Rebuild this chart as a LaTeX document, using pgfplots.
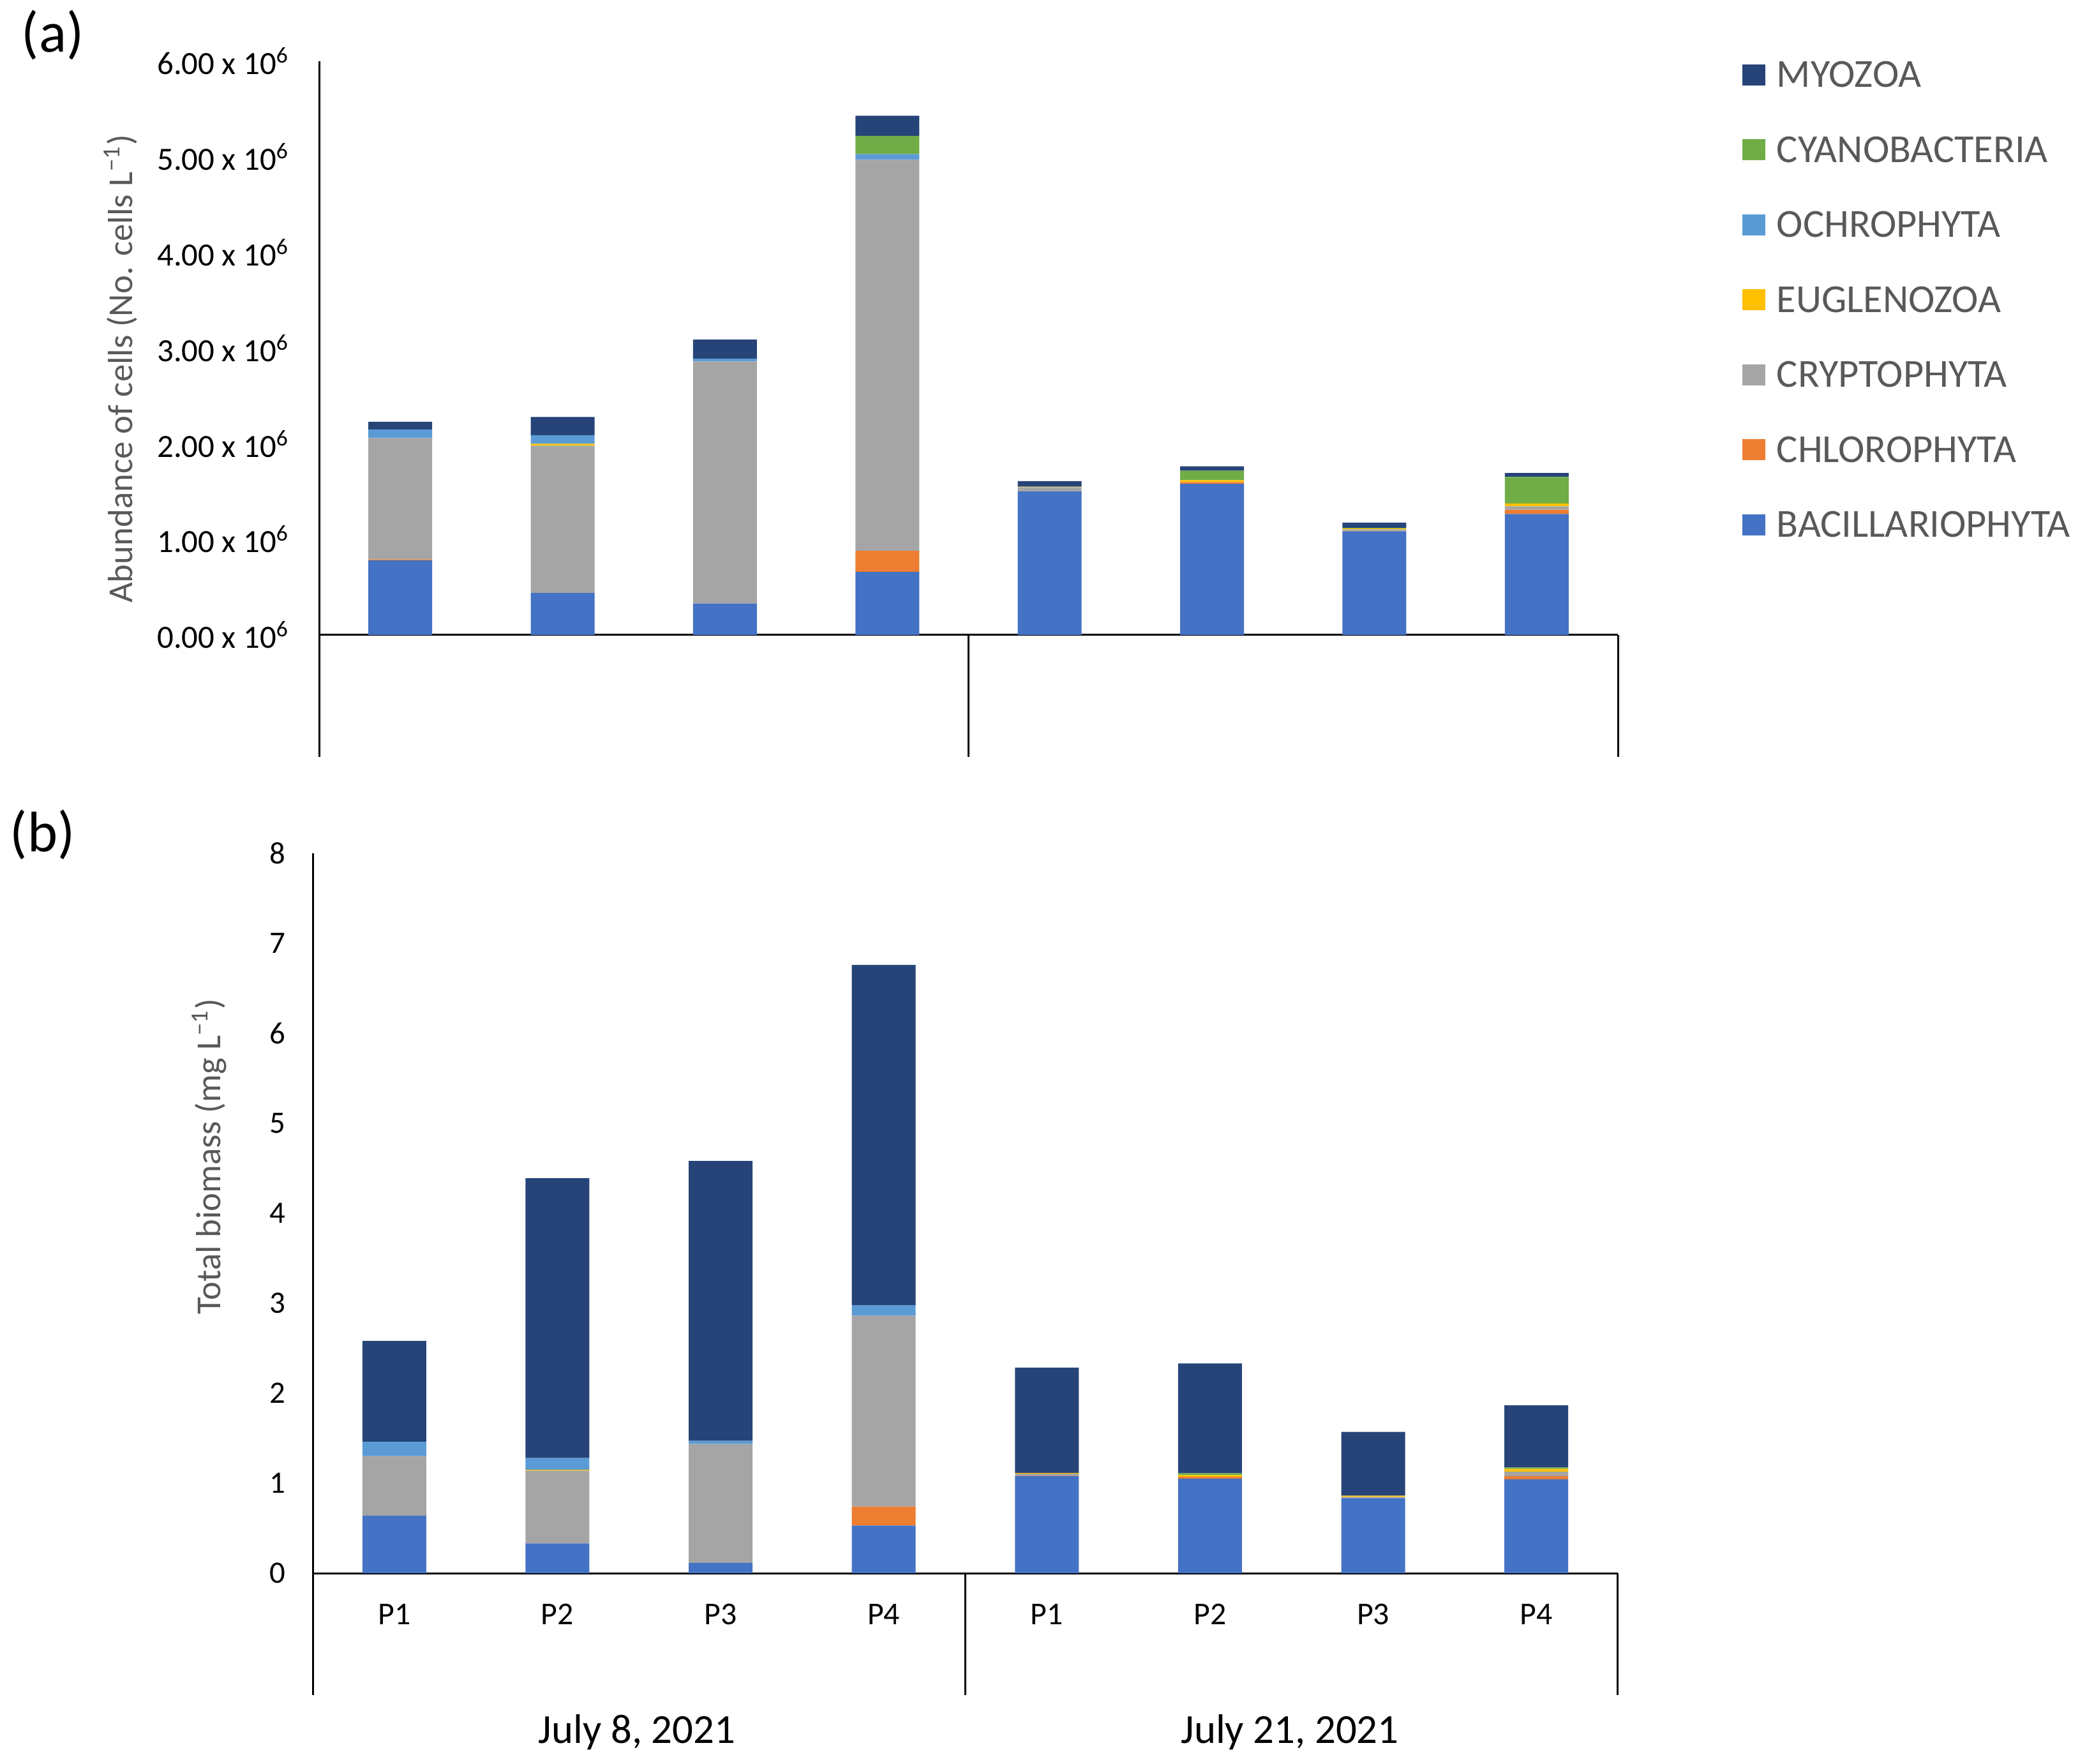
\documentclass[border=0pt]{standalone}
\usepackage{pgfplots}
\pgfplotsset{compat=1.18}
\usepackage{pgfplotstable}
\usepackage{fontspec}
\setmainfont{Carlito}

\definecolor{cBac}{HTML}{4472C4}
\definecolor{cChl}{HTML}{ED7D31}
\definecolor{cCry}{HTML}{A5A5A5}
\definecolor{cEug}{HTML}{FFC000}
\definecolor{cOch}{HTML}{5B9BD5}
\definecolor{cCya}{HTML}{70AD47}
\definecolor{cMyo}{HTML}{264478}
\definecolor{txtgray}{HTML}{595959}

% (a) abundance, 10^6 cells per litre
\pgfplotstableread{
x bac chl cry eug och cya myo
0 0.78 0.01 1.27 0.00 0.09 0.00 0.08
1 0.44 0.00 1.54 0.02 0.09 0.00 0.19
2 0.33 0.00 2.53 0.00 0.03 0.00 0.20
3 0.66 0.22 4.09 0.00 0.06 0.19 0.21
4 1.50 0.00 0.045 0.005 0.00 0.00 0.06
5 1.58 0.02 0.00 0.02 0.00 0.098 0.047
6 1.085 0.005 0.015 0.01 0.00 0.005 0.055
7 1.265 0.045 0.035 0.03 0.00 0.277 0.043
}\abund

% (b) biomass, mg per litre
\pgfplotstableread{
x bac chl cry eug och cya myo
0 0.64 0.00 0.66 0.00 0.16 0.00 1.12
1 0.33 0.00 0.81 0.01 0.13 0.00 3.11
2 0.115 0.00 1.32 0.00 0.035 0.00 3.11
3 0.53 0.21 2.12 0.00 0.12 0.00 3.78
4 1.08 0.005 0.02 0.01 0.00 0.00 1.17
5 1.05 0.02 0.00 0.02 0.00 0.02 1.22
6 0.834 0.00 0.012 0.014 0.00 0.00 0.71
7 1.044 0.035 0.05 0.03 0.00 0.015 0.692
}\biomass

\pgfplotsset{
  panel/.style={
    scale only axis,
    ybar stacked,
    bar width=20bp,
    xmin=-0.5, xmax=7.5, ymin=0,
    enlargelimits=false,
    axis lines=left,
    axis line style={-, line width=0.6bp, black},
    tick style={draw=none},
    clip=false,
  },
  sq/.style={fill=#1, draw=none},
}

\begin{document}
\begin{tikzpicture}
\path[use as bounding box] (0,0) rectangle (654bp,552.8bp);

% ---- (a) ----
\begin{axis}[panel,
  at={(100bp,353.8bp)}, anchor=south west,
  width=407bp, height=179.8bp,
  ymax=6,
  ytick={0,1,2,3,4,5,6},
  yticklabels={0.00 x 10\textsuperscript{6},1.00 x 10\textsuperscript{6},2.00 x 10\textsuperscript{6},3.00 x 10\textsuperscript{6},4.00 x 10\textsuperscript{6},5.00 x 10\textsuperscript{6},6.00 x 10\textsuperscript{6}},
  yticklabel style={anchor=east, inner sep=0pt, xshift=-7bp, font=\fontsize{10.2}{12}\selectfont},
  xtick=\empty,
  reverse legend,
  legend style={at={(1.0958,0.9978)}, anchor=north west, draw=none, fill=none,
    inner sep=0pt, outer sep=0pt, row sep=15.7bp, column sep=3.6bp,
    font=\fontsize{12.5}{14}\selectfont, text=txtgray,
    nodes={inner sep=0pt, text height=7.8bp, text depth=0pt}},
  legend cell align=left,
  legend image code/.code={\fill[#1] (0bp,-3.3bp) rectangle (7.2bp,3.3bp);},
]
\addplot[sq=cBac] table[x=x,y=bac]{\abund};
\addplot[sq=cChl] table[x=x,y=chl]{\abund};
\addplot[sq=cCry] table[x=x,y=cry]{\abund};
\addplot[sq=cEug] table[x=x,y=eug]{\abund};
\addplot[sq=cOch] table[x=x,y=och]{\abund};
\addplot[sq=cCya] table[x=x,y=cya]{\abund};
\addplot[sq=cMyo] table[x=x,y=myo]{\abund};
\legend{BACILLARIOPHYTA,CHLOROPHYTA,CRYPTOPHYTA,EUGLENOZOA,OCHROPHYTA,CYANOBACTERIA,MYOZOA}
\draw[line width=0.6bp] (axis cs:-0.5,0) -- ++(0bp,-38.2bp);
\draw[line width=0.6bp] (axis cs:3.5,0) -- ++(0bp,-38.2bp);
\draw[line width=0.6bp] (axis cs:7.5,0) -- ++(0bp,-38.2bp);
\end{axis}

% ---- (b) ----
\begin{axis}[panel,
  at={(98bp,59.8bp)}, anchor=south west,
  width=409bp, height=225.6bp,
  ymax=8,
  ytick={0,1,...,8},
  yticklabel style={anchor=east, inner sep=0pt, xshift=-6.2bp, font=\fontsize{9.8}{11}\selectfont},
  /pgf/number format/assume math mode=true,
  xtick={0,...,7},
  xticklabels={P1,P2,P3,P4,P1,P2,P3,P4},
  xticklabel style={anchor=base, yshift=-14bp, font=\fontsize{10}{11}\selectfont},
]
\addplot[sq=cBac] table[x=x,y=bac]{\biomass};
\addplot[sq=cChl] table[x=x,y=chl]{\biomass};
\addplot[sq=cCry] table[x=x,y=cry]{\biomass};
\addplot[sq=cEug] table[x=x,y=eug]{\biomass};
\addplot[sq=cOch] table[x=x,y=och]{\biomass};
\addplot[sq=cCya] table[x=x,y=cya]{\biomass};
\addplot[sq=cMyo] table[x=x,y=myo]{\biomass};
\draw[line width=0.6bp] (axis cs:-0.5,0) -- ++(0bp,-38.2bp);
\draw[line width=0.6bp] (axis cs:3.5,0) -- ++(0bp,-38.2bp);
\draw[line width=0.6bp] (axis cs:7.5,0) -- ++(0bp,-38.2bp);
\end{axis}

% panel letters, axis titles, date groups (coordinates in reference pixels)
\begin{scope}[x=0.2bp, y=0.2bp]
\node[anchor=west, inner sep=0pt, font=\fontsize{18}{21}\selectfont] at (33,2709) {(a)};
\node[anchor=west, inner sep=0pt, font=\fontsize{18}{21}\selectfont] at (15,1456) {(b)};
\node[rotate=90, inner sep=0pt, text=txtgray, font=\fontsize{11}{13}\selectfont] at (189,2186) {Abundance of cells (No. cells L\textsuperscript{−1})};
\node[rotate=90, inner sep=0pt, text=txtgray, font=\fontsize{11}{13}\selectfont] at (328,952) {Total biomass (mg L\textsuperscript{−1})};
\node[anchor=base, inner sep=0pt, font=\fontsize{13}{15}\selectfont] at (998,33) {July 8, 2021};
\node[anchor=base, inner sep=0pt, font=\fontsize{13}{15}\selectfont] at (2021,33) {July 21, 2021};
\end{scope}
\end{tikzpicture}
\end{document}
